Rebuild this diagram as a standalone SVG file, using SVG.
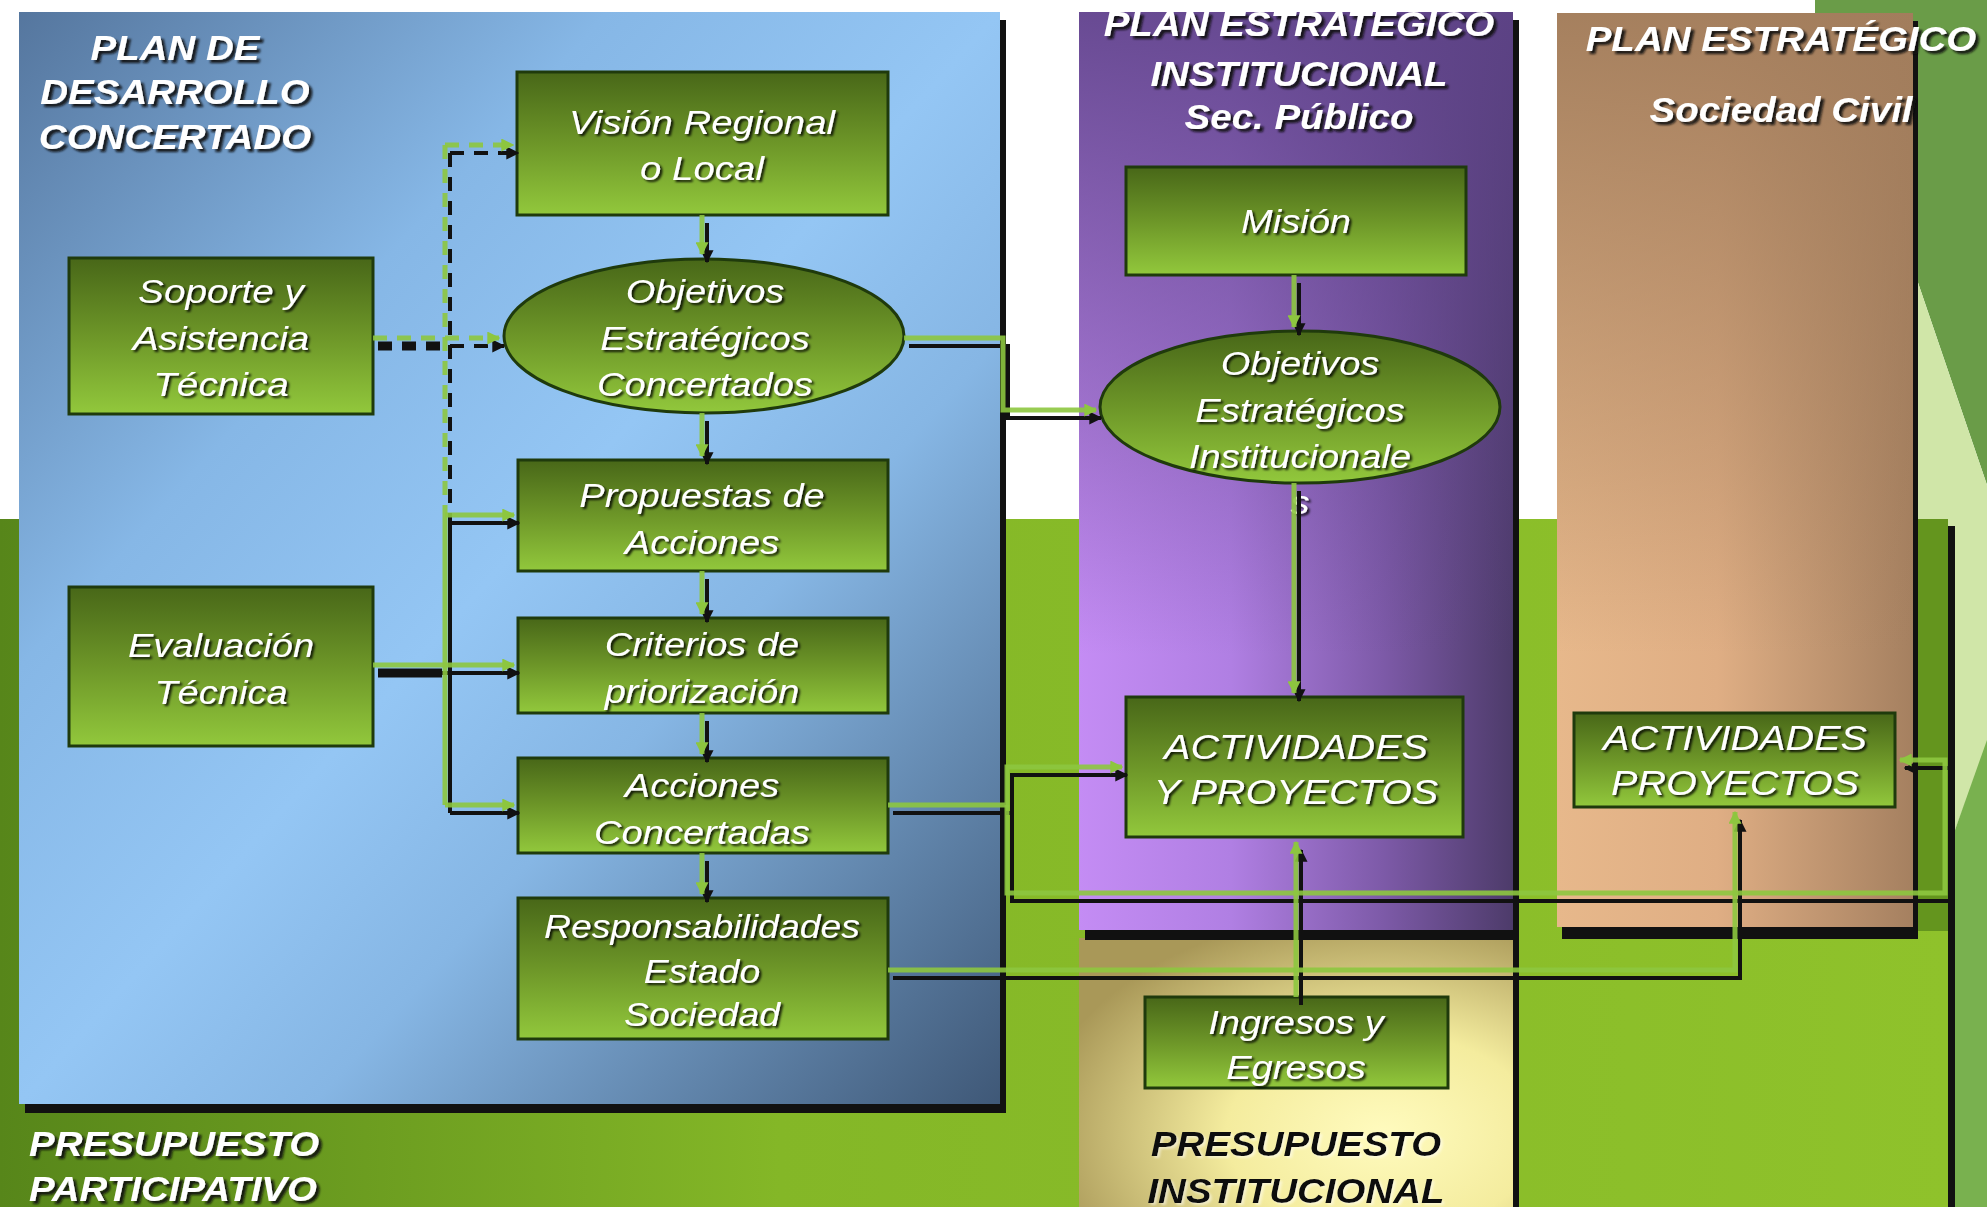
<svg xmlns="http://www.w3.org/2000/svg" width="1987" height="1207" viewBox="0 0 1987 1207">
<defs>
  <linearGradient id="gBlue" x1="0" y1="0" x2="1" y2="1">
    <stop offset="0" stop-color="#55769e"/>
    <stop offset="0.3" stop-color="#86b7e6"/>
    <stop offset="0.5" stop-color="#94c6f4"/>
    <stop offset="0.65" stop-color="#86b6e4"/>
    <stop offset="1" stop-color="#3f5877"/>
  </linearGradient>
  <linearGradient id="gGreen" x1="0" y1="0" x2="1" y2="0">
    <stop offset="0" stop-color="#57861a"/>
    <stop offset="0.4" stop-color="#84b727"/>
    <stop offset="1" stop-color="#8fc22b"/>
  </linearGradient>
  <linearGradient id="gPurpH" x1="0" y1="0" x2="1" y2="0">
    <stop offset="0" stop-color="#c48cf4"/>
    <stop offset="0.35" stop-color="#b07fe3"/>
    <stop offset="0.7" stop-color="#7d5aa8"/>
    <stop offset="1" stop-color="#4d3b6a"/>
  </linearGradient>
  <linearGradient id="gPurpV" x1="0" y1="0" x2="0" y2="1">
    <stop offset="0" stop-color="#5e4388" stop-opacity="0.9"/>
    <stop offset="0.45" stop-color="#5e4388" stop-opacity="0.35"/>
    <stop offset="0.7" stop-color="#5e4388" stop-opacity="0"/>
  </linearGradient>
  <linearGradient id="gTanH" x1="0" y1="0" x2="1" y2="0">
    <stop offset="0" stop-color="#e7b88b"/>
    <stop offset="0.45" stop-color="#dfae84"/>
    <stop offset="1" stop-color="#a58060"/>
  </linearGradient>
  <linearGradient id="gTanV" x1="0" y1="0" x2="0" y2="1">
    <stop offset="0" stop-color="#a27d5c" stop-opacity="0.95"/>
    <stop offset="0.5" stop-color="#a27d5c" stop-opacity="0.3"/>
    <stop offset="0.7" stop-color="#a27d5c" stop-opacity="0"/>
  </linearGradient>
  <radialGradient id="gYel" cx="0.7" cy="0.7" r="0.8">
    <stop offset="0" stop-color="#fffbbe"/>
    <stop offset="0.45" stop-color="#f4ec9e"/>
    <stop offset="1" stop-color="#a99858"/>
  </radialGradient>
  <linearGradient id="gBox" x1="0" y1="0" x2="0" y2="1">
    <stop offset="0" stop-color="#486718"/>
    <stop offset="0.5" stop-color="#6d9628"/>
    <stop offset="1" stop-color="#92c83c"/>
  </linearGradient>
  <filter id="shT" x="-10%" y="-20%" width="130%" height="150%">
    <feDropShadow dx="2" dy="2" stdDeviation="0.8" flood-color="#000" flood-opacity="0.85"/>
  </filter>
  <filter id="shH" x="-10%" y="-20%" width="130%" height="150%">
    <feDropShadow dx="3" dy="3" stdDeviation="1.2" flood-color="#111" flood-opacity="0.9"/>
  </filter>
  <filter id="shK" x="-10%" y="-20%" width="130%" height="150%">
    <feDropShadow dx="2" dy="2" stdDeviation="1" flood-color="#fff" flood-opacity="0.5"/>
  </filter>
  <marker id="ag" viewBox="0 0 10 10" refX="9" refY="5" markerWidth="13" markerHeight="13" markerUnits="userSpaceOnUse" orient="auto">
    <path d="M0,0 L10,5 L0,10 z" fill="#8dc63f"/>
  </marker>
  <marker id="ab" viewBox="0 0 10 10" refX="9" refY="5" markerWidth="13" markerHeight="13" markerUnits="userSpaceOnUse" orient="auto">
    <path d="M0,0 L10,5 L0,10 z" fill="#111"/>
  </marker>
  <clipPath id="clipPurp"><rect x="1079" y="12" width="434" height="918"/></clipPath>
</defs>
<style>
  .box{fill:url(#gBox);stroke:#1f3a0c;stroke-width:3}
  .nt{font-family:"Liberation Sans",Arial,sans-serif;font-style:italic;font-size:34px;fill:#fff;text-anchor:middle;filter:url(#shT)}
  .big{font-size:36px}
  .tt{font-family:"Liberation Sans",Arial,sans-serif;font-style:italic;font-weight:bold;font-size:35px;fill:#fff;text-anchor:middle;filter:url(#shH)}
  .tk{font-family:"Liberation Sans",Arial,sans-serif;font-style:italic;font-weight:bold;font-size:35px;fill:#0a0a0a;text-anchor:middle;filter:url(#shK)}
  .cg{fill:none;stroke:#8dc63f;stroke-width:5;stroke-opacity:0.9;marker-end:url(#ag)}
  .cb{fill:none;stroke:#111;stroke-width:4;marker-end:url(#ab)}
  .nm{marker-end:none}
  .dash{stroke-dasharray:14 10}
</style>

<!-- background -->
<rect x="0" y="0" width="1987" height="1207" fill="#ffffff"/>
<polygon points="1815,0 1987,0 1987,485 1912,265 1912,14 1815,14" fill="#6a9c48"/>
<polygon points="1912,265 1987,485 1987,745 1955,830 1955,1207 1912,1207" fill="#d0e6a8"/>
<polygon points="1987,740 1955,830 1955,1207 1987,1207" fill="#79b14f"/>

<!-- green base (Presupuesto participativo) -->
<rect x="7" y="526" width="1948" height="700" fill="#111"/>
<rect x="0" y="519" width="1948" height="700" fill="url(#gGreen)"/>
<rect x="1918" y="519" width="30" height="412" fill="#64951e"/>

<!-- panels -->
<rect x="25" y="20" width="981" height="1093" fill="#111"/>
<rect x="19" y="12" width="981" height="1092" fill="url(#gBlue)"/>

<rect x="1085" y="938" width="434" height="280" fill="#111"/>
<rect x="1079" y="938" width="434" height="280" fill="url(#gYel)"/>

<rect x="1085" y="20" width="434" height="920" fill="#111"/>
<rect x="1079" y="12" width="434" height="918" fill="url(#gPurpH)"/>
<rect x="1079" y="12" width="434" height="918" fill="url(#gPurpV)"/>

<rect x="1562" y="21" width="356" height="918" fill="#111"/>
<rect x="1557" y="13" width="356" height="914" fill="url(#gTanH)"/>
<rect x="1557" y="13" width="356" height="914" fill="url(#gTanV)"/>

<!-- panel titles -->
<g id="titles">
  <text class="tt" transform="translate(175 0) scale(1.1 1)"><tspan x="0" y="60">PLAN DE</tspan><tspan x="0" y="104">DESARROLLO</tspan><tspan x="0" y="149">CONCERTADO</tspan></text>
  <text class="tt" transform="translate(29 0) scale(1.1 1)" style="text-anchor:start"><tspan x="0" y="1156">PRESUPUESTO</tspan><tspan x="0" y="1201">PARTICIPATIVO</tspan></text>
  <g clip-path="url(#clipPurp)">
    <text class="tt" transform="translate(1299 0) scale(1.1 1)"><tspan x="0" y="36">PLAN ESTRATÉGICO</tspan><tspan x="0" y="86">INSTITUCIONAL</tspan><tspan x="0" y="129">Sec. Público</tspan></text>
  </g>
  <text class="tt" transform="translate(1781 0) scale(1.1 1)"><tspan x="0" y="51">PLAN ESTRATÉGICO</tspan><tspan x="0" y="122">Sociedad Civil</tspan></text>
  <text class="tk" transform="translate(1296 0) scale(1.1 1)"><tspan x="0" y="1156">PRESUPUESTO</tspan><tspan x="0" y="1203">INSTITUCIONAL</tspan></text>
</g>

<!-- nodes -->
<g id="n-vision"><rect class="box" x="517" y="72" width="371" height="143"/>
  <text class="nt" transform="translate(702 0) scale(1.13 1)"><tspan x="0" y="134">Visión Regional</tspan><tspan x="0" y="180">o Local</tspan></text></g>
<g id="n-soporte"><rect class="box" x="69" y="258" width="304" height="156"/>
  <text class="nt" transform="translate(221 0) scale(1.14 1)"><tspan x="0" y="303">Soporte y</tspan><tspan x="0" y="350">Asistencia</tspan><tspan x="0" y="396">Técnica</tspan></text></g>
<g id="n-objetivos"><ellipse class="box" cx="704" cy="336" rx="200" ry="77"/>
  <text class="nt" transform="translate(705 0) scale(1.12 1)"><tspan x="0" y="303">Objetivos</tspan><tspan x="0" y="350">Estratégicos</tspan><tspan x="0" y="396">Concertados</tspan></text></g>
<g id="n-propuestas"><rect class="box" x="518" y="460" width="370" height="111"/>
  <text class="nt" transform="translate(702 0) scale(1.12 1)"><tspan x="0" y="507">Propuestas de</tspan><tspan x="0" y="554">Acciones</tspan></text></g>
<g id="n-criterios"><rect class="box" x="518" y="618" width="370" height="95"/>
  <text class="nt" transform="translate(702 0) scale(1.12 1)"><tspan x="0" y="656">Criterios de</tspan><tspan x="0" y="703">priorización</tspan></text></g>
<g id="n-acciones"><rect class="box" x="518" y="758" width="370" height="95"/>
  <text class="nt" transform="translate(702 0) scale(1.12 1)"><tspan x="0" y="797">Acciones</tspan><tspan x="0" y="844">Concertadas</tspan></text></g>
<g id="n-responsabilidades"><rect class="box" x="518" y="898" width="370" height="141"/>
  <text class="nt" transform="translate(702 0) scale(1.1 1)"><tspan x="0" y="938">Responsabilidades</tspan><tspan x="0" y="983">Estado</tspan><tspan x="0" y="1026">Sociedad</tspan></text></g>
<g id="n-evaluacion"><rect class="box" x="69" y="587" width="304" height="159"/>
  <text class="nt" transform="translate(221 0) scale(1.12 1)"><tspan x="0" y="657">Evaluación</tspan><tspan x="0" y="704">Técnica</tspan></text></g>
<g id="n-mision"><rect class="box" x="1126" y="167" width="340" height="108"/>
  <text class="nt" transform="translate(1296 0) scale(1.12 1)"><tspan x="0" y="233">Misión</tspan></text></g>
<g id="n-objetivos-inst"><ellipse class="box" cx="1300" cy="407" rx="200" ry="76"/>
  <text class="nt" transform="translate(1300 0) scale(1.12 1)"><tspan x="0" y="375">Objetivos</tspan><tspan x="0" y="422">Estratégicos</tspan><tspan x="0" y="468">Institucionale</tspan><tspan x="0" y="514">s</tspan></text></g>
<g id="n-actividades-pub"><rect class="box" x="1126" y="697" width="337" height="140"/>
  <text class="nt big" transform="translate(1296 0) scale(1.1 1)"><tspan x="0" y="759">ACTIVIDADES</tspan><tspan x="0" y="804">Y PROYECTOS</tspan></text></g>
<g id="n-ingresos"><rect class="box" x="1145" y="997" width="303" height="91"/>
  <text class="nt" transform="translate(1296 0) scale(1.12 1)"><tspan x="0" y="1034">Ingresos y</tspan><tspan x="0" y="1079">Egresos</tspan></text></g>
<g id="n-actividades-civ"><rect class="box" x="1574" y="713" width="321" height="94"/>
  <text class="nt big" transform="translate(1735 0) scale(1.1 1)"><tspan x="0" y="750">ACTIVIDADES</tspan><tspan x="0" y="795">PROYECTOS</tspan></text></g>

<!-- connectors -->
<g id="connectors">
  <g transform="translate(5 8)">
    <path class="cb dash" d="M373 338 H499"/>
    <path class="cb dash nm" d="M445 145 V512"/>
    <path class="cb dash" d="M445 145 H513"/>
    <path class="cb nm" d="M445 512 V805"/>
    <path class="cb" d="M445 515 H514"/>
    <path class="cb" d="M373 665 H514"/>
    <path class="cb" d="M445 805 H514"/>
    <path class="cb" d="M702 215 V254"/>
    <path class="cb" d="M702 413 V456"/>
    <path class="cb" d="M702 571 V614"/>
    <path class="cb" d="M702 713 V754"/>
    <path class="cb" d="M702 853 V894"/>
    <path class="cb" d="M904 338 H1003 V410 H1096"/>
    <path class="cb" d="M1294 275 V327"/>
    <path class="cb" d="M1294 483 V693"/>
    <path class="cb" d="M888 805 H1007 V767 H1122"/>
    <path class="cb" d="M1007 805 V893 H1945 V760 H1900"/>
    <path class="cb" d="M888 970 H1735 V812"/>
    <path class="cb" d="M1296 997 V842"/>
  </g>
  <line x1="378" y1="346" x2="440" y2="346" stroke="#111" stroke-width="9" stroke-dasharray="14 10"/>
  <line x1="378" y1="673" x2="442" y2="673" stroke="#111" stroke-width="9"/>
  <g>
    <path class="cg dash" d="M373 338 H499"/>
    <path class="cg dash nm" d="M445 145 V512"/>
    <path class="cg dash" d="M445 145 H513"/>
    <path class="cg nm" d="M445 512 V805"/>
    <path class="cg" d="M445 515 H514"/>
    <path class="cg" d="M373 665 H514"/>
    <path class="cg" d="M445 805 H514"/>
    <path class="cg" d="M702 215 V254"/>
    <path class="cg" d="M702 413 V456"/>
    <path class="cg" d="M702 571 V614"/>
    <path class="cg" d="M702 713 V754"/>
    <path class="cg" d="M702 853 V894"/>
    <path class="cg" d="M904 338 H1003 V410 H1096"/>
    <path class="cg" d="M1294 275 V327"/>
    <path class="cg" d="M1294 483 V693"/>
    <path class="cg" d="M888 805 H1007 V767 H1122"/>
    <path class="cg" d="M1007 805 V893 H1945 V760 H1900"/>
    <path class="cg" d="M888 970 H1735 V812"/>
    <path class="cg" d="M1296 997 V842"/>
  </g>
</g>
</svg>
